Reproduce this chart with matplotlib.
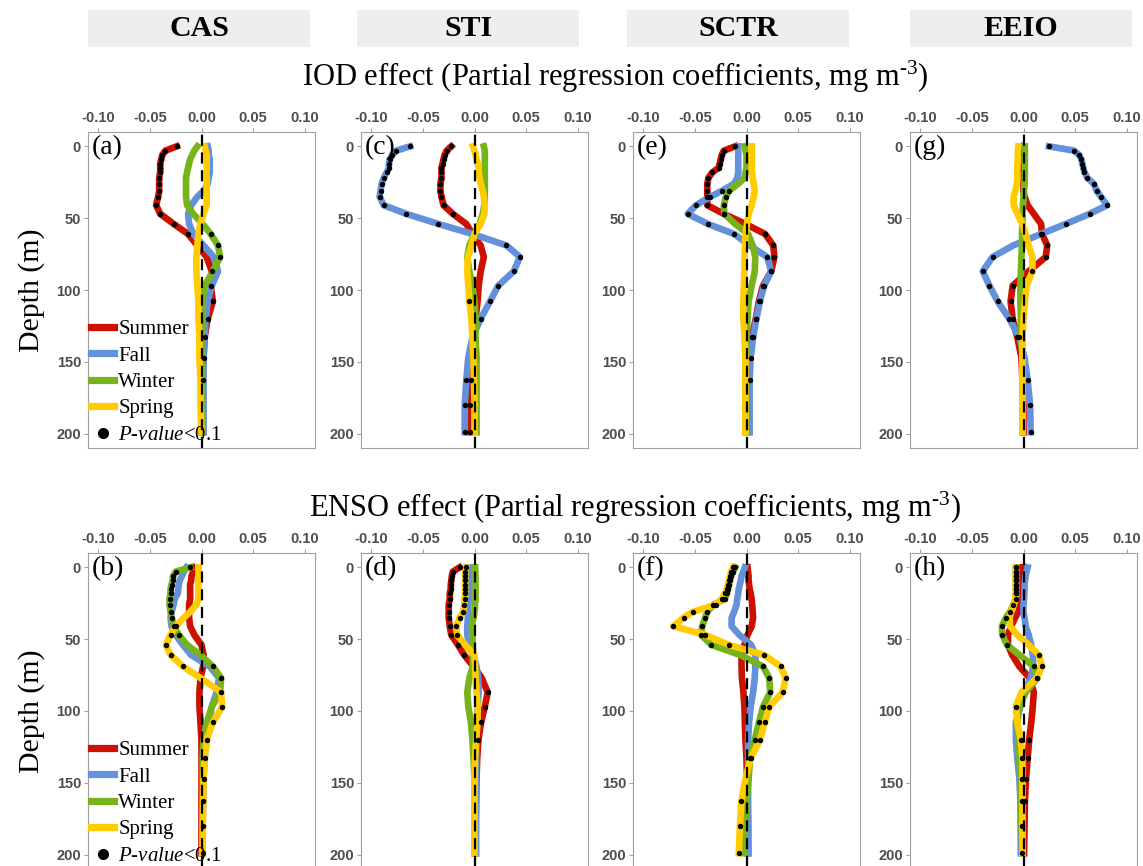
import numpy as np
import matplotlib
matplotlib.use("Agg")
import matplotlib.pyplot as plt
from matplotlib.lines import Line2D
from matplotlib.patches import Rectangle

plt.rcParams['font.family'] = ['Liberation Serif', 'DejaVu Serif']
plt.rcParams['mathtext.fontset'] = 'custom'
plt.rcParams['mathtext.rm'] = 'Liberation Serif'
plt.rcParams['mathtext.it'] = 'Liberation Serif:italic'
plt.rcParams['axes.unicode_minus'] = False

# depth levels (m)
depth = [0, 3, 6, 9, 12, 15, 18, 22, 26, 31, 35, 41, 47, 54, 61, 69, 77, 87, 97, 108, 120, 133, 147, 163, 180, 199]

seasons = ["Summer", "Fall", "Winter", "Spring"]
colors = ["#CC1100", "#6391DC", "#77B41A", "#FFCC00"]
regions = ["CAS", "STI", "SCTR", "EEIO"]
xticks = [-0.10, -0.05, 0.00, 0.05, 0.10]
xtick_labels = ["-0.10", "-0.05", "0.00", "0.05", "0.10"]
yticks = [0, 50, 100, 150, 200]

# ---- IOD effect ----
# (a) CAS
a_summer = [-0.024, -0.035, -0.038, -0.039, -0.040, -0.040, -0.040, -0.041, -0.041, -0.041, -0.042, -0.044, -0.040, -0.027, -0.013, -0.004, 0.005, 0.010, 0.009, 0.011, 0.006, 0.003, 0.002, 0.001, 0.0005, 0.0]
a_fall = [0.006, 0.007, 0.007, 0.008, 0.008, 0.008, 0.008, 0.007, 0.006, 0.002, -0.004, -0.010, -0.013, -0.012, -0.008, 0.002, 0.012, 0.016, 0.010, 0.006, 0.004, 0.003, 0.002, 0.002, 0.002, 0.002]
a_winter = [-0.004, -0.007, -0.009, -0.011, -0.012, -0.013, -0.014, -0.015, -0.015, -0.015, -0.015, -0.014, -0.008, 0.001, 0.009, 0.016, 0.018, 0.011, 0.003, 0.001, 0.0005, 0.0, 0.0, 0.0, 0.0, 0.0]
a_spring = [0.003, 0.004, 0.005, 0.005, 0.005, 0.005, 0.005, 0.005, 0.005, 0.005, 0.005, 0.005, 0.002, -0.001, -0.003, -0.004, -0.005, -0.005, -0.004, -0.003, -0.003, -0.002, -0.002, -0.001, -0.001, 0.0]
a_sig = ["11111111111111100111111100", "00000000000000000000000000",
         "00000000000000111000000000", "00000000000000000000000000"]

# (c) STI
c_summer = [-0.0225, -0.027, -0.029, -0.030, -0.031, -0.032, -0.032, -0.032, -0.033, -0.033, -0.032, -0.030, -0.021, -0.008, -0.002, 0.006, 0.009, 0.006, 0.004, 0.003, 0.001, -0.001, -0.002, -0.003, -0.004, -0.004]
c_fall = [-0.0625, -0.076, -0.080, -0.082, -0.083, -0.083, -0.085, -0.088, -0.090, -0.091, -0.092, -0.088, -0.066, -0.035, -0.002, 0.031, 0.044, 0.038, 0.023, 0.015, 0.006, -0.002, -0.006, -0.008, -0.0095, -0.0095]
c_winter = [0.009, 0.010, 0.010, 0.010, 0.010, 0.010, 0.010, 0.010, 0.010, 0.010, 0.010, 0.0095, 0.008, 0.005, 0.0, -0.005, -0.007, -0.005, -0.002, 0.0, 0.001, 0.001, 0.002, 0.002, 0.002, 0.002]
c_spring = [-0.0015, 0.0, 0.001, 0.002, 0.003, 0.004, 0.004, 0.005, 0.006, 0.008, 0.009, 0.010, 0.0095, 0.006, 0.0, -0.003, -0.0065, -0.007, -0.006, -0.005, -0.003, -0.002, -0.001, -0.0005, 0.0, 0.0]
c_sig = ["11111111111110000000000111", "11111111111111011111100111",
         "00000000000000000000000000", "00000000000000000001000000"]

# (e) SCTR
e_summer = [-0.011, -0.022, -0.024, -0.025, -0.026, -0.027, -0.033, -0.037, -0.038, -0.038, -0.038, -0.038, -0.022, -0.001, 0.018, 0.026, 0.027, 0.024, 0.016, 0.012, 0.009, 0.005, 0.003, 0.002, 0.001, 0.001]
e_fall = [-0.008, -0.008, -0.008, -0.008, -0.008, -0.008, -0.008, -0.009, -0.012, -0.024, -0.035, -0.049, -0.057, -0.0375, -0.012, 0.003, 0.020, 0.024, 0.017, 0.013, 0.0096, 0.0064, 0.004, 0.003, 0.003, 0.003]
e_winter = [-0.0015, -0.001, 0.0, 0.0, 0.0, 0.0, -0.001, -0.002, -0.008, -0.017, -0.020, -0.022, -0.0215, -0.011, 0.0015, 0.006, 0.0085, 0.008, 0.005, 0.002, 0.001, 0.0, -0.001, -0.001, -0.001, -0.001]
e_spring = [0.005, 0.005, 0.005, 0.005, 0.005, 0.005, 0.0055, 0.006, 0.007, 0.008, 0.007, 0.005, 0.002, 0.0005, -0.001, -0.0015, -0.002, -0.002, -0.0025, -0.003, -0.003, -0.002, -0.001, -0.001, -0.001, -0.001]
e_sig = ["11111111111110111111110000", "00000000011111101111111100",
         "00000000011110000000000000", "00000000000000000000000000"]

# (g) EEIO
g_summer = [0.0, -0.001, -0.001, -0.001, -0.001, -0.001, 0.0, 0.0, 0.0, 0.0, 0.001, 0.004, 0.010, 0.017, 0.018, 0.023, 0.0215, 0.005, -0.0105, -0.0125, -0.0105, -0.006, -0.002, -0.001, 0.0, 0.0]
g_fall = [0.0247, 0.049, 0.054, 0.056, 0.057, 0.058, 0.059, 0.062, 0.068, 0.071, 0.075, 0.081, 0.064, 0.041, 0.017, -0.010, -0.030, -0.0395, -0.033, -0.025, -0.0138, -0.004, 0.001, 0.004, 0.0064, 0.007]
g_winter = [0.0013, 0.0013, 0.0013, 0.0013, 0.0013, 0.0013, 0.0013, 0.0013, 0.001, 0.0005, 0.0, -0.0005, -0.001, -0.001, -0.0015, -0.0015, -0.002, -0.0025, -0.003, -0.003, -0.0025, -0.002, -0.001, -0.001, -0.001, -0.001]
g_spring = [-0.005, -0.0055, -0.0055, -0.0055, -0.0058, -0.006, -0.006, -0.006, -0.0064, -0.008, -0.0096, -0.0096, -0.006, -0.001, 0.002, 0.005, 0.0087, 0.0087, 0.003, 0.0013, 0.0, -0.001, -0.001, -0.001, -0.001, -0.001]
g_sig = ["00000000000000111011110000", "11111111111111101111110111",
         "00000000000000000000000000", "00000000000000000100000000"]

# ---- ENSO effect ----
# (b) CAS
b_summer = [-0.0065, -0.008, -0.0097, -0.010, -0.011, -0.011, -0.011, -0.011, -0.012, -0.012, -0.012, -0.011, -0.007, 0.0, 0.002, 0.0016, -0.001, -0.002, -0.002, -0.001, 0.0, 0.0, 0.0, 0.0, 0.0, 0.0]
b_fall = [-0.0145, -0.017, -0.019, -0.021, -0.022, -0.0225, -0.023, -0.026, -0.027, -0.029, -0.030, -0.029, -0.025, -0.018, -0.010, 0.008, 0.017, 0.0145, 0.010, 0.007, 0.005, 0.003, 0.002, 0.0016, 0.001, 0.001]
b_winter = [-0.011, -0.025, -0.0275, -0.028, -0.029, -0.030, -0.030, -0.031, -0.031, -0.030, -0.029, -0.027, -0.022, -0.014, -0.001, 0.011, 0.019, 0.018, 0.010, 0.005, 0.002, 0.001, 0.001, 0.001, 0.001, 0.001]
b_spring = [-0.003, -0.003, -0.003, -0.003, -0.003, -0.003, -0.003, -0.003, -0.005, -0.011, -0.017, -0.025, -0.030, -0.0345, -0.030, -0.018, -0.001, 0.019, 0.020, 0.011, 0.005, 0.003, 0.002, 0.0016, 0.0013, 0.001]
b_sig = ["00000000000000000000000000", "00000000000000000000000000",
         "11111111111110011000000000", "00000000000111110111111111"]

# (d) STI
d_summer = [-0.0145, -0.021, -0.022, -0.0224, -0.023, -0.023, -0.024, -0.024, -0.025, -0.025, -0.025, -0.024, -0.0225, -0.016, -0.010, -0.001, 0.007, 0.0128, 0.010, 0.0064, 0.0038, 0.0026, 0.002, 0.0015, 0.001, 0.001]
d_fall = [-0.004, -0.004, -0.004, -0.0045, -0.005, -0.005, -0.005, -0.0055, -0.006, -0.0064, -0.0064, -0.007, -0.007, -0.005, -0.001, 0.002, 0.0035, 0.004, 0.003, 0.002, 0.0016, 0.0016, 0.0016, 0.0016, 0.0016, 0.0016]
d_winter = [0.0006, 0.0008, 0.001, 0.001, 0.001, 0.001, 0.001, 0.001, 0.0005, 0.0, -0.001, -0.0026, -0.002, -0.0016, -0.0016, -0.0016, -0.005, -0.007, -0.006, -0.0035, -0.002, -0.001, 0.0, 0.0, 0.0, 0.0]
d_spring = [-0.008, -0.009, -0.009, -0.009, -0.009, -0.009, -0.009, -0.0096, -0.010, -0.011, -0.0144, -0.0176, -0.017, -0.009, 0.0, 0.0006, 0.001, 0.002, 0.003, 0.003, 0.0016, 0.0005, 0.0, 0.0, 0.0, 0.0]
d_sig = ["11111111111111100111100000", "00000000000000000000000000",
         "00000000000000000000000000", "11111111111110000000000000"]

# (f) SCTR
f_summer = [0.001, 0.0015, 0.002, 0.002, 0.0025, 0.003, 0.004, 0.005, 0.0055, 0.006, 0.0064, 0.005, 0.001, -0.002, -0.0048, -0.0048, -0.0045, -0.003, -0.002, -0.0016, -0.001, 0.0, 0.0005, 0.001, 0.0015, 0.0016]
f_fall = [-0.0016, -0.003, -0.0048, -0.0055, -0.0065, -0.0075, -0.008, -0.009, -0.0096, -0.012, -0.0144, -0.0144, -0.007, 0.0045, 0.0087, 0.0085, 0.008, 0.0064, 0.004, 0.0025, 0.0016, 0.0016, 0.0016, 0.0016, 0.0016, 0.0016]
f_winter = [-0.011, -0.013, -0.015, -0.016, -0.017, -0.018, -0.019, -0.021, -0.032, -0.038, -0.040, -0.043, -0.044, -0.034, -0.006, 0.016, 0.022, 0.023, 0.016, 0.012, 0.008, 0.0035, 0.002, 0.0, -0.0016, -0.002]
f_spring = [-0.013, -0.015, -0.016, -0.017, -0.018, -0.019, -0.021, -0.024, -0.030, -0.052, -0.061, -0.071, -0.040, -0.017, 0.017, 0.033, 0.038, 0.035, 0.022, 0.0176, 0.013, 0.004, -0.001, -0.005, -0.0064, -0.0074]
f_sig = ["00000000000000000000000000", "00000000000000000000000000",
         "11111111111111011111110000", "11111111111111111111110111"]

# (h) EEIO
h_summer = [-0.001, -0.001, -0.001, -0.001, -0.001, -0.001, -0.001, -0.001, -0.003, -0.005, -0.008, -0.012, -0.015, -0.015, -0.011, -0.004, 0.006, 0.010, 0.009, 0.0075, 0.0055, 0.004, 0.0025, 0.0013, 0.001, 0.0006]
h_fall = [0.004, 0.003, 0.002, 0.0015, 0.001, 0.001, 0.0008, 0.0005, 0.0, 0.0, 0.001, 0.002, 0.005, 0.0075, 0.009, 0.0096, 0.007, 0.001, -0.003, -0.0074, -0.0074, -0.006, -0.004, -0.003, -0.0028, -0.0026]
h_winter = [-0.0074, -0.0074, -0.0074, -0.0074, -0.0074, -0.0074, -0.0074, -0.0074, -0.010, -0.013, -0.017, -0.021, -0.0205, -0.016, -0.004, 0.010, 0.0135, 0.002, -0.004, -0.006, -0.005, -0.004, -0.003, -0.0026, -0.002, -0.001]
h_spring = [-0.0074, -0.0074, -0.0074, -0.0074, -0.0074, -0.0074, -0.0074, -0.008, -0.0095, -0.012, -0.0135, -0.013, -0.006, 0.005, 0.015, 0.018, 0.013, -0.002, -0.0074, -0.006, -0.0026, -0.001, -0.001, -0.001, -0.001, -0.001]
h_sig = ["00000000000000000000111100", "00000000000000000000000000",
         "11111111111111011000000000", "11111110000000111010111111"]

panels = [
    ("(a)", [a_summer, a_fall, a_winter, a_spring], a_sig, 0, 0),
    ("(c)", [c_summer, c_fall, c_winter, c_spring], c_sig, 0, 1),
    ("(e)", [e_summer, e_fall, e_winter, e_spring], e_sig, 0, 2),
    ("(g)", [g_summer, g_fall, g_winter, g_spring], g_sig, 0, 3),
    ("(b)", [b_summer, b_fall, b_winter, b_spring], b_sig, 1, 0),
    ("(d)", [d_summer, d_fall, d_winter, d_spring], d_sig, 1, 1),
    ("(f)", [f_summer, f_fall, f_winter, f_spring], f_sig, 1, 2),
    ("(h)", [h_summer, h_fall, h_winter, h_spring], h_sig, 1, 3),
]

W, H = 1143, 866
fig = plt.figure(figsize=(W / 100, H / 100), dpi=100)

def px_box(x0, y0, w, h):
    return [x0 / W, 1 - (y0 + h) / H, w / W, h / H]

col_left = [88, 361, 633, 910]
row_top = [132, 553]
ax_w, ax_h = 227, 316
grey = "#A0A0A0"

# strip headers
strip_left = [88, 357, 627, 910]
for xl, name in zip(strip_left, regions):
    fig.add_artist(Rectangle((xl / W, 1 - 47 / H), 222 / W, 37 / H,
                             transform=fig.transFigure, facecolor="#EEEEEE", edgecolor="none"))
    fig.text((xl + 111) / W, 1 - 29 / H, name, ha="center", va="center",
             fontsize=21.5, fontweight="bold")

fig.text(615 / W, 1 - 77 / H, r"IOD effect (Partial regression coefficients, mg m$^{\text{-3}}$)",
         ha="center", va="center", fontsize=22)
fig.text(635 / W, 1 - 508 / H, r"ENSO effect (Partial regression coefficients, mg m$^{\text{-3}}$)",
         ha="center", va="center", fontsize=22)
for r in range(2):
    fig.text(32 / W, 1 - (row_top[r] + ax_h / 2) / H, "Depth (m)", rotation=90,
             ha="center", va="center", fontsize=21.5)

for label, series, sigs, r, c in panels:
    ax = fig.add_axes(px_box(col_left[c], row_top[r], ax_w, ax_h))
    for vals, col in zip(series, colors):
        ax.plot(vals, depth, color=col, lw=4.8, solid_joinstyle="round", zorder=2)
    ax.axvline(0, color="black", lw=1.6, dashes=(5, 3), zorder=3)
    for vals, s in zip(series, sigs):
        xs = [v for v, f in zip(vals, s) if f == "1"]
        ys = [d for d, f in zip(depth, s) if f == "1"]
        ax.plot(xs, ys, "o", color="black", ms=3.9, mec="none", zorder=4)
    ax.set_xlim(-0.11, 0.11)
    ax.set_ylim(210, -10)
    ax.xaxis.tick_top()
    ax.set_xticks(xticks)
    ax.set_xticklabels(xtick_labels)
    ax.set_yticks(yticks)
    ax.tick_params(length=3, width=0.8, color=grey, labelcolor="#4D4D4D", pad=2)
    for t in ax.get_xticklabels() + ax.get_yticklabels():
        t.set_fontfamily("Liberation Sans")
        t.set_fontweight("bold")
        t.set_fontsize(10.5)
    for sp in ax.spines.values():
        sp.set_color(grey)
        sp.set_linewidth(0.8)
    ax.text(0.015, 0.99, label, transform=ax.transAxes, ha="left", va="top", fontsize=20)
    if c == 0:
        handles = [Line2D([], [], color=col, lw=5.2) for col in colors]
        handles.append(Line2D([], [], marker="o", color="black", ls="none", ms=7))
        labels = seasons + [r"$\it{P}$-$\it{value}$<0.1"]
        ax.legend(handles, labels, loc="lower left", frameon=False, fontsize=15,
                  handlelength=1.1, handletextpad=0.2, labelspacing=0.33,
                  borderaxespad=0.0, borderpad=0.15)

fig.savefig("out.png", dpi=100)
